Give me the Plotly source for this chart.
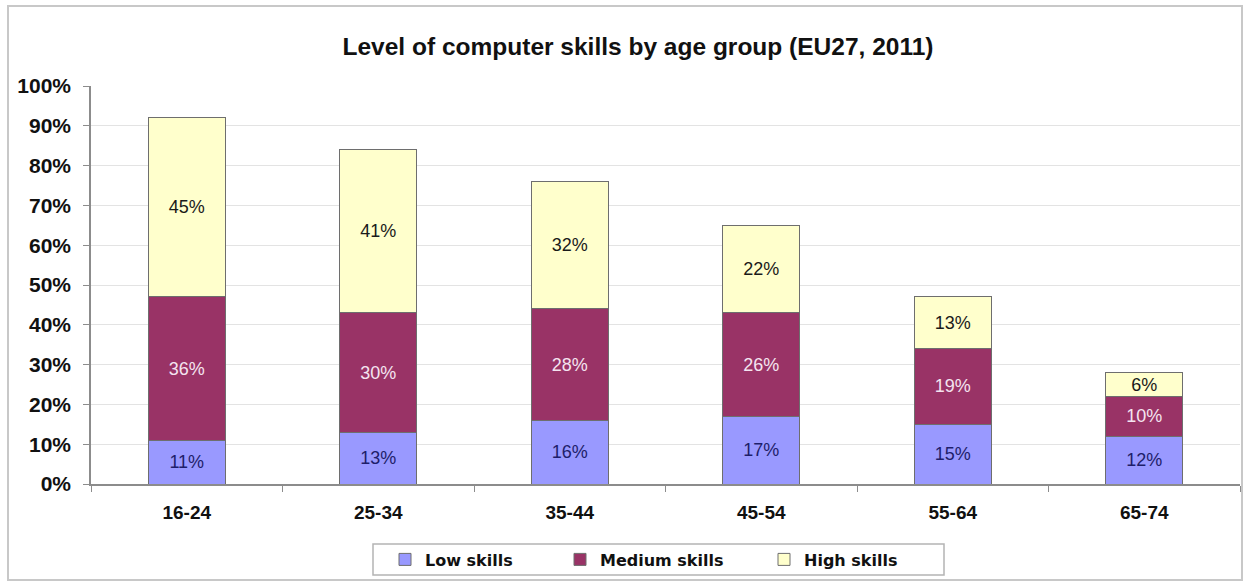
import plotly.graph_objects as go

categories = ["16-24", "25-34", "35-44", "45-54", "55-64", "65-74"]
low_skills = [11, 13, 16, 17, 15, 12]
medium_skills = [36, 30, 28, 26, 19, 10]
high_skills = [45, 41, 32, 22, 13, 6]
y_ticks = [0, 10, 20, 30, 40, 50, 60, 70, 80, 90, 100]

W, H = 1246, 585
L, R, T, B = 91, 1240, 86, 484  # plot area in px


def px(x):
    return (x - L) / (R - L)


def py(y):
    return (B - y) / (B - T)


fig = go.Figure()
series = [
    ("Low skills", low_skills, "#9999FF", "#1E1E6A", "legend"),
    ("Medium skills", medium_skills, "#993366", "#F4E4F0", "legend2"),
    ("High skills", high_skills, "#FFFFCC", "#1A1A1A", "legend3"),
]
for name, vals, col, tcol, leg in series:
    fig.add_trace(go.Bar(
        name=name, x=categories, y=vals,
        marker=dict(color=col, line=dict(color="#6E6E6E", width=1)),
        text=[f"{v}%" for v in vals],
        textposition="inside", insidetextanchor="middle", textangle=0,
        constraintext="none",
        textfont=dict(family="Liberation Sans, Arial", size=18, color=tcol),
        legend=leg, showlegend=True,
    ))

leg_font = dict(family="DejaVu Sans", size=16, color="#111111", weight="bold")
leg_common = dict(orientation="h", yanchor="middle", xanchor="left",
                  bgcolor="rgba(0,0,0,0)", borderwidth=0, font=leg_font,
                  itemwidth=30, visible=True)

fig.update_layout(
    width=W, height=H, showlegend=True,
    margin=dict(l=L, r=W - R, t=T, b=H - B),
    paper_bgcolor="white", plot_bgcolor="white",
    barmode="stack", bargap=0.6,
    title=dict(text="<b>Level of computer skills by age group (EU27, 2011)</b>",
               x=638 / W, xanchor="center", xref="container",
               y=1 - 46 / H, yanchor="middle", yref="container",
               font=dict(family="Liberation Sans, Arial", size=24.5, color="#111111")),
    font=dict(family="Liberation Sans, Arial", color="#111111"),
    xaxis=dict(
        showline=True, linecolor="#8C8C8C", linewidth=1.5,
        ticks="outside", tickson="boundaries", ticklen=6, tickcolor="#8C8C8C",
        tickfont=dict(family="Liberation Sans, Arial", size=19, color="#111111"),
        tickprefix="<b>", ticksuffix="</b>",
        ticklabelstandoff=10,
        showgrid=False, fixedrange=True,
    ),
    yaxis=dict(
        range=[0, 100], tickvals=y_ticks, ticktext=[f"<b>{v}%</b>" for v in y_ticks],
        showline=True, linecolor="#8C8C8C", linewidth=1.5,
        ticks="outside", ticklen=6, tickcolor="#8C8C8C",
        showgrid=True, gridcolor="#E3E3E3", gridwidth=1,
        tickfont=dict(family="Liberation Sans, Arial", size=21, color="#111111"),
        ticklabelstandoff=8,
        zeroline=False, fixedrange=True,
    ),
    legend=dict(x=px(385), y=py(559.5), **leg_common),
    legend2=dict(x=px(560), y=py(559.5), **leg_common),
    legend3=dict(x=px(764), y=py(559.5), **leg_common),
    shapes=[
        dict(type="rect", xref="paper", yref="paper",
             x0=px(8), x1=px(1242), y0=py(580), y1=py(6),
             line=dict(color="#C8C8C8", width=2), fillcolor="rgba(0,0,0,0)",
             layer="below"),
        dict(type="rect", xref="paper", yref="paper",
             x0=px(373), x1=px(944), y0=py(575), y1=py(544),
             line=dict(color="#B4B4B4", width=1.5), fillcolor="rgba(0,0,0,0)",
             layer="below"),
    ],
)

fig.write_html("out.html", config={"displayModeBar": False},
               post_script="document.body.style.margin='0';document.body.style.padding='0';")
